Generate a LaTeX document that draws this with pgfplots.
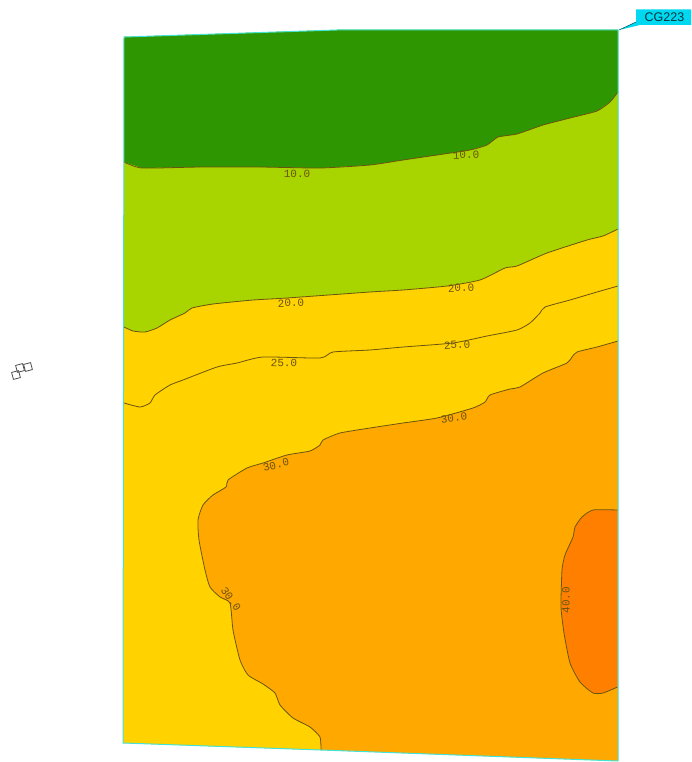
\documentclass[border=0pt]{standalone}
\usepackage{pgfplots}
\usepackage{fontspec}
\setmainfont{Liberation Sans}
\newfontfamily\lblfont{Liberation Mono}
\pgfplotsset{compat=1.18}
\definecolor{cgreen}{HTML}{2E9600}
\definecolor{clime}{HTML}{A8D400}
\definecolor{cyellow}{HTML}{FFD200}
\definecolor{corange}{HTML}{FFA800}
\definecolor{cdeep}{HTML}{FF8000}
\definecolor{cedge}{HTML}{45E2D6}
\definecolor{cline}{HTML}{6A5410}
\definecolor{ctag}{HTML}{00D8F2}
\tikzset{
  cont/.style={draw=cline, line width=0.8pt, smooth, tension=0.35},
  lab/.style={font=\lblfont\fontsize{11}{11}\selectfont, text=cline, inner sep=0pt}
}
\begin{document}
\begin{tikzpicture}[x=1pt,y=1pt]
\begin{axis}[
  scale only axis, width=691pt, height=762pt,
  xmin=0, xmax=691, ymin=0, ymax=762, y dir=reverse,
  hide axis, clip=false,
  every axis plot/.append style={line join=round}
]
% invisible frame that fixes the page to the full picture
\path (axis cs:0,0) rectangle (axis cs:691,762);
% whole shell, orange level
\addplot[draw=none, fill=corange, no markers] coordinates {(124,37)(337,30)(618,30)(618,761)(321,750)(123,743)} -- cycle;
% yellow level
\addplot[draw=none, fill=cyellow, no markers] coordinates {(124,37)(337,30)(618,30)(618,341)(597,347)(577,352)(572,357)(567,363)(543,373)(520,387)(510,389)(490,395)(485,402)(473,408)(437,418)(403,423)(370,428)(340,433)(323,440)(320,445)(310,451)(287,455)(263,463)(247,468)(228,480)(226,487)(213,495)(203,505)(198,520)(199,540)(205,570)(210,587)(220,597)(230,603)(233,630)(240,660)(248,675)(263,684)(275,693)(280,705)(293,718)(310,727)(320,737)(321,750)(123,743)} -- cycle;
% lime level
\addplot[draw=none, fill=clime, no markers] coordinates {(124,37)(337,30)(618,30)(618,229)(603,236)(587,240)(547,253)(517,266)(505,268)(480,280)(447,286)(403,290)(370,292)(287,298)(253,300)(213,304)(192,308)(185,313)(170,320)(157,328)(145,332)(133,331)(124,327)} -- cycle;
% green level
\addplot[draw=none, fill=cgreen, no markers] coordinates {(124,37)(337,30)(618,30)(618,92)(610,102)(597,111)(570,118)(543,125)(517,134)(498,137)(487,145)(470,150)(437,155)(403,160)(370,165)(320,168)(260,167)(200,167)(142,168)(124,162)} -- cycle;
% deep orange level
\addplot[draw=none, fill=cdeep, no markers] coordinates {(617.5,510)(593,510)(582,517)(575,527)(573,537)(565,555)(562,570)(561,607)(564,633)(570,663)(580,682)(593,693)(603,693)(617.5,687)} -- cycle;
% contour lines
\addplot[cont, no markers] coordinates {(124,162)(142,168)(200,167)(260,167)(320,168)(370,165)(403,160)(437,155)(470,150)(487,145)(498,137)(517,134)(543,125)(570,118)(597,111)(610,102)(618,92)};
\addplot[cont, no markers] coordinates {(124,327)(133,331)(145,332)(157,328)(170,320)(185,313)(192,308)(213,304)(253,300)(287,298)(370,292)(403,290)(447,286)(480,280)(505,268)(517,266)(547,253)(587,240)(603,236)(618,229)};
\addplot[cont, no markers] coordinates {(124,403)(140,407)(150,403)(155,395)(170,385)(183,380)(217,367)(237,363)(263,357)(320,358)(333,352)(370,350)(403,347)(453,343)(487,336)(517,330)(530,323)(540,313)(545,307)(570,300)(597,292)(618,286)};
\addplot[cont, no markers] coordinates {(618,341)(597,347)(577,352)(572,357)(567,363)(543,373)(520,387)(510,389)(490,395)(485,402)(473,408)(437,418)(403,423)(370,428)(340,433)(323,440)(320,445)(310,451)(287,455)(263,463)(247,468)(228,480)(226,487)(213,495)(203,505)(198,520)(199,540)(205,570)(210,587)(220,597)(230,603)(233,630)(240,660)(248,675)(263,684)(275,693)(280,705)(293,718)(310,727)(320,737)(321,750)};
\addplot[cont, no markers] coordinates {(617.5,510)(593,510)(582,517)(575,527)(573,537)(565,555)(562,570)(561,607)(564,633)(570,663)(580,682)(593,693)(603,693)(617.5,687)};
% shell outline
\addplot[draw=cedge, line width=1pt, no markers] coordinates {(124,37)(337,30)(618,30)(618,761)(321,750)(123,743)} -- cycle;
% contour labels
\node[lab] at (axis cs:297,174) {10.0};
\node[lab, rotate=3] at (axis cs:466,155) {10.0};
\node[lab, rotate=2] at (axis cs:291,303) {20.0};
\node[lab, rotate=3] at (axis cs:461,288) {20.0};
\node[lab, rotate=-2] at (axis cs:284,363) {25.0};
\node[lab, rotate=3] at (axis cs:457,345) {25.0};
\node[lab, rotate=8] at (axis cs:454,418) {30.0};
\node[lab, rotate=14] at (axis cs:276,465) {30.0};
\node[lab, rotate=-55] at (axis cs:231,599) {30.0};
\node[lab, rotate=90] at (axis cs:566,600) {40.0};
% callout tag
\addplot[draw=none, fill=ctag, no markers] coordinates {(619,30)(636,22)(636,9.5)(691,9.5)(691,25)(640,25)} -- cycle;
\addplot[draw=black!65!ctag, line width=0.5pt, no markers] coordinates {(619,30)(636,22)};
\node[font=\fontsize{12.5}{12.5}\selectfont, text=black!75!ctag, inner sep=0pt] at (axis cs:664.5,17.5) {CG223};
% triad glyph
\addplot[only marks, mark=square, mark size=3.6pt, mark options={rotate=15, draw=black!70, line width=0.8pt}] coordinates {(16,375)(20,368)(28,367)};
\end{axis}
\end{tikzpicture}
\end{document}
